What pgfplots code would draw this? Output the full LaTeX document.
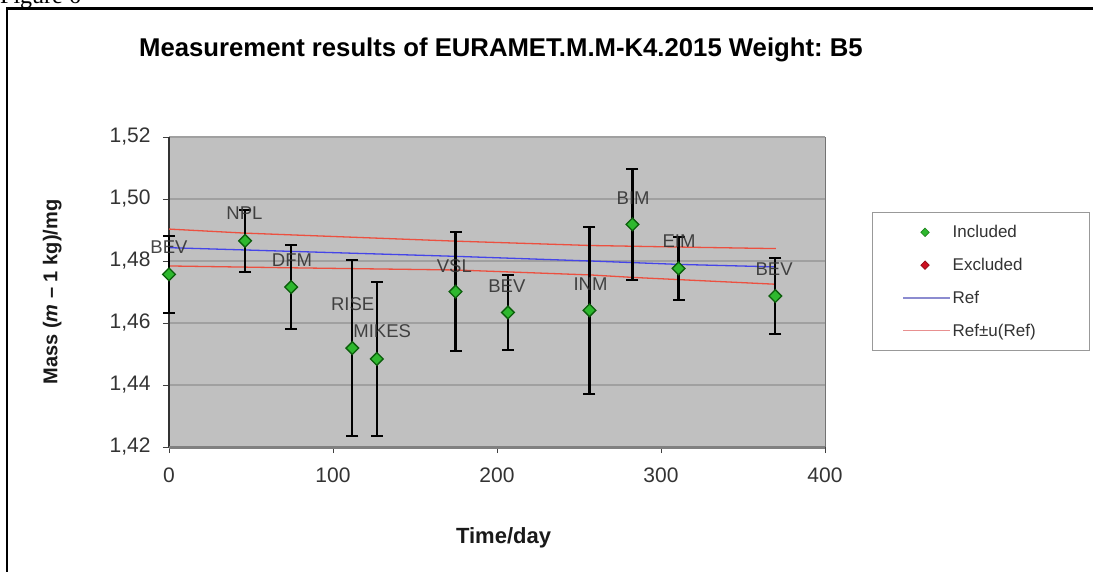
\documentclass[border=0pt]{standalone}
\usepackage{fontspec}
\setmainfont{Liberation Sans}
\newfontfamily\seriffont{Liberation Serif}
\usepackage{pgfplots}
\pgfplotsset{compat=1.18}
\usepackage{pgfplotstable}

\definecolor{plotgray}{HTML}{C0C0C0}
\definecolor{gridgray}{HTML}{A0A0A0}
\definecolor{txtgray}{HTML}{333333}
\definecolor{ptfill}{HTML}{2EB82E}
\definecolor{ptedge}{HTML}{0B5E0B}
\definecolor{refblue}{HTML}{4545E8}
\definecolor{refred}{HTML}{EC5040}
\definecolor{legblue}{HTML}{8C8CD0}
\definecolor{legred}{HTML}{E89090}
\definecolor{exfill}{HTML}{CC1020}

\pgfplotstableread{
x y e
0 1.4757 0.0124
46.4 1.4865 0.0100
74.5 1.4716 0.0134
111.8 1.4519 0.0285
126.7 1.4484 0.0249
174.7 1.4701 0.0192
206.7 1.4634 0.0122
256.4 1.4641 0.0270
282.6 1.4918 0.0180
310.7 1.4776 0.0101
369.7 1.4687 0.0124
}\meas

\pgfplotstableread{
x y lab
0 1.4845 BEV
46 1.4955 NPL
75 1.4804 DFM
112 1.4660 RISE
130 1.4573 MIKES
174 1.4784 VSL
206 1.4720 BEV
257 1.4725 INM
283 1.5003 BIM
311 1.4864 EIM
369 1.4773 BEV
}\labs

\pgfplotstableread{
x y
0 1.4843
175 1.4815
257 1.4800
311 1.4789
370 1.4781
}\refline

\pgfplotstableread{
x y
0 1.4903
46 1.4890
175 1.4864
257 1.4850
311 1.4845
370 1.4840
}\refup

\pgfplotstableread{
x y
0 1.4784
75 1.4778
175 1.4771
257 1.4755
283 1.4747
370 1.4725
}\reflo

\pgfplotsset{
  mylegmark/.style={legend image code/.code={\draw[##1] plot coordinates {(22pt,0pt)};}},
  mylegline/.style={legend image code/.code={\draw[##1] (0pt,0pt) -- (47pt,0pt);}},
}

\begin{document}
\begin{tikzpicture}[x=1pt,y=1pt]
\useasboundingbox (0,0) rectangle (1093,571);
\clip (0,0) rectangle (1093,571);
\node[anchor=base west, inner sep=0pt, font=\seriffont\fontsize{24}{24}\selectfont] at (0,567) {Figure 6};
\draw[line width=2.2pt] (7,-10) -- (7,562.5) -- (1110,562.5);
\begin{axis}[
  at={(169pt,124pt)}, anchor=south west,
  scale only axis, width=656pt, height=310pt,
  xmin=0, xmax=400, ymin=1.42, ymax=1.52,
  xtick={0,100,200,300,400},
  ytick={1.42,1.44,1.46,1.48,1.50,1.52},
  clip=false,
  axis background/.style={fill=plotgray},
  axis line style={draw=none},
  ymajorgrids, major grid style={gridgray, line width=1.2pt},
  tick align=outside, major tick length=6pt,
  xtick pos=bottom, ytick pos=left,
  tick style={black!75, line width=0.8pt},
  /pgf/number format/assume math mode=true,
  ticklabel style={font=\fontsize{21}{21}\selectfont, text=txtgray},
  yticklabel shift=9pt, xticklabel shift=11pt,
  yticklabel style={/pgf/number format/.cd, fixed, fixed zerofill, precision=2, use comma},
  xticklabel style={/pgf/number format/.cd, fixed},
  xlabel={Time/day}, ylabel={Mass (\textit{m} -- 1 kg)/mg},
  xlabel style={at={(axis description cs:0.51,-0.2935)}, anchor=center, font=\bfseries\fontsize{22}{22}\selectfont, text=black!90},
  ylabel style={at={(axis description cs:-0.178,0.5)}, anchor=center, font=\bfseries\fontsize{20}{20}\selectfont, text=black!90},
  title={Measurement results of EURAMET.M.M-K4.2015 Weight:\ B5},
  title style={at={(axis description cs:0.506,1.261)}, anchor=center, font=\bfseries\fontsize{25.7}{25.7}\selectfont},
  legend style={at={(axis description cs:1.0716,0.758)}, anchor=north west, draw=gray!80, line width=0.8pt, fill=white, font=\fontsize{17}{17}\selectfont, text=txtgray, inner xsep=30pt, inner ysep=11pt, row sep=15pt},
  legend cell align=left,
]
\draw[black!80, line width=1.2pt] (rel axis cs:0,0) -- (rel axis cs:0,1);
\draw[gray!90!black, line width=1pt] (rel axis cs:1,0) -- (rel axis cs:1,1);
\draw[black!50, line width=3pt] (rel axis cs:0,0) -- (rel axis cs:1,0);

\addplot[refblue, line width=1.3pt, forget plot] table[x=x,y=y] {\refline};
\addplot[refred, line width=1.3pt, forget plot] table[x=x,y=y] {\refup};
\addplot[refred, line width=1.3pt, forget plot] table[x=x,y=y] {\reflo};

% error bars (vertical part)
\addplot[draw=none, mark=none, forget plot,
  error bars/.cd, y dir=both, y explicit, error mark=none,
  error bar style={black, line width=2.2pt}]
  table[x=x, y=y, y error=e] {\meas};
% caps at the ends of the error bars
\addplot[only marks, mark=-, mark size=6pt, mark options={black, line width=2pt}, forget plot]
  table[x=x, y expr=\thisrow{y}+\thisrow{e}] {\meas};
\addplot[only marks, mark=-, mark size=6pt, mark options={black, line width=2pt}, forget plot]
  table[x=x, y expr=\thisrow{y}-\thisrow{e}] {\meas};
% measurement points
\addplot[only marks, mark=square*, mark size=4.5pt,
  mark options={rotate=45, fill=ptfill, draw=ptedge, line width=1.3pt}, forget plot]
  table[x=x, y=y] {\meas};

\addplot[draw=none, mark=none, forget plot, point meta=explicit symbolic,
  nodes near coords,
  every node near coord/.append style={anchor=center, font=\fontsize{18.5}{18.5}\selectfont, text=txtgray, opacity=0.9}]
  table[x=x, y=y, meta=lab] {\labs};

\addlegendimage{mylegmark, only marks, mark=square*, mark size=3pt, mark options={rotate=45, fill=ptfill, draw=ptfill!70!black, line width=0.6pt}}
\addlegendentry{\makebox[105pt][l]{Included}}
\addlegendimage{mylegmark, only marks, mark=square*, mark size=3pt, mark options={rotate=45, fill=exfill, draw=exfill!70!black, line width=0.6pt}}
\addlegendentry{\makebox[105pt][l]{Excluded}}
\addlegendimage{mylegline, legblue, line width=1.3pt}
\addlegendentry{\makebox[105pt][l]{Ref}}
\addlegendimage{mylegline, legred, line width=1.3pt}
\addlegendentry{\makebox[105pt][l]{Ref±u(Ref)}}
\end{axis}
\end{tikzpicture}
\end{document}
